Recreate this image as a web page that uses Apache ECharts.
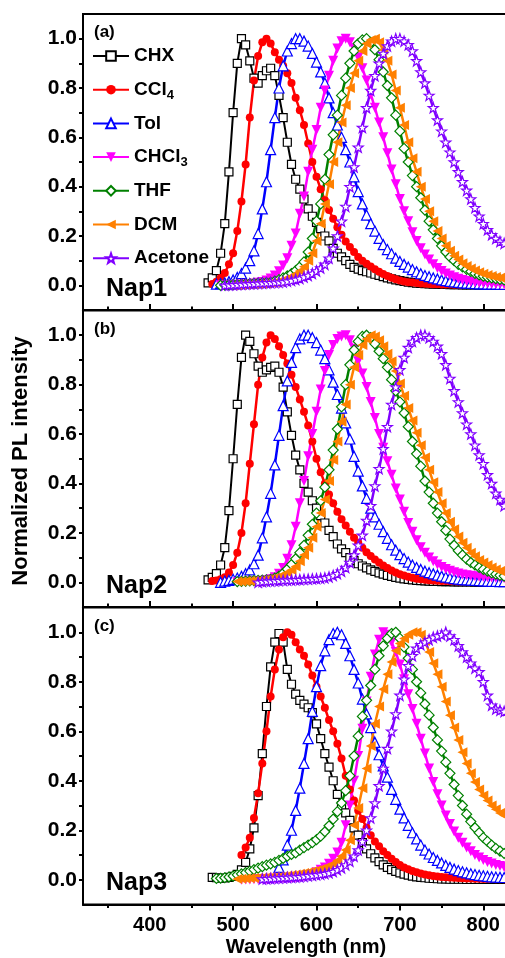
<!DOCTYPE html>
<html>
<head>
<meta charset="utf-8">
<script src="https://cdn.jsdelivr.net/npm/echarts@6/dist/echarts.min.js"></script>
<style>
  html, body { margin: 0; padding: 0; background: #ffffff; overflow: hidden; }
  #chart { width: 530px; height: 958px; }
</style>
</head>
<body>
<div id="chart"></div>
<script>
// Sampling grid shared by every spectrum (nm)
const WL = [470,475,480,485,490,495,500,505,510,515,
            520,525,530,535,540,545,550,555,560,565,
            570,575,580,585,590,595,600,605,610,615,
            620,625,630,635,640,645,650,655,660,665,
            670,675,680,685,690,695,700,705,710,715,
            720,725,730,735,740,745,750,755,760,765,
            770,775,780,785,790,795,800,805,810,815,
            820,825];

const SOLVENTS = ['CHX', 'CCl4', 'Tol', 'CHCl3', 'THF', 'DCM', 'Acetone'];
const PANEL_TAGS = ['(a)', '(b)', '(c)'];
const COMPOUNDS = ['Nap1', 'Nap2', 'Nap3'];
const X_MAJOR = [400, 500, 600, 700, 800];
const X_MINOR = [350, 450, 550, 650, 750, 850];
const Y_LABELS = [0, 0.2, 0.4, 0.6, 0.8, 1.0];
const Y_TICKS = [0, 0.1, 0.2, 0.3, 0.4, 0.5, 0.6, 0.7, 0.8, 0.9, 1.0];

// ---- Nap1 normalized PL ----
const nap1_CHX = [0.01,0.03,0.06,0.13,0.25,0.46,0.70,0.90,1.0,0.975,
  0.91,0.84,0.82,0.85,0.87,0.88,0.85,0.77,0.68,0.58,
  0.49,0.43,0.39,0.35,0.31,0.28,0.255,0.23,0.20,0.18,
  0.15,0.13,0.115,0.10,0.085,0.073,0.066,0.06,0.055,0.05,
  0.045,0.04,0.035,0.03,0.026,0.022,0.019,0.016,0.013,0.011,
  0.009,0.008,0.007,0.006,0.005,0.005,0.004,0.004,0.003,0.003,
  0.003,0.002,0.002,0.002,0.002,0.001,0.001,0.001,0.001,0.001,
  0.001,0.001];
const nap1_CCl4 = [null,0.005,0.015,0.03,0.05,0.085,0.13,0.22,0.34,0.49,
  0.68,0.83,0.93,0.985,1.0,0.98,0.945,0.915,0.89,0.86,
  0.82,0.76,0.71,0.65,0.575,0.50,0.44,0.39,0.345,0.305,
  0.27,0.235,0.205,0.178,0.155,0.135,0.115,0.10,0.088,0.076,
  0.065,0.055,0.046,0.038,0.031,0.025,0.02,0.016,0.013,0.011,
  0.009,0.007,0.006,0.005,0.004,0.004,0.003,0.003,0.003,0.002,
  0.002,0.002,0.002,0.002,0.001,0.001,0.001,0.001,0.001,0.001,
  0.001,0.001];
const nap1_Tol = [null,null,0.005,0.007,0.01,0.015,0.022,0.032,0.048,0.07,
  0.10,0.14,0.21,0.31,0.42,0.55,0.68,0.80,0.89,0.95,
  0.98,1.0,1.0,0.99,0.97,0.94,0.905,0.865,0.82,0.76,
  0.70,0.65,0.60,0.55,0.50,0.44,0.38,0.33,0.285,0.25,
  0.22,0.19,0.165,0.145,0.128,0.11,0.097,0.085,0.074,0.064,
  0.055,0.047,0.04,0.035,0.03,0.026,0.022,0.019,0.016,0.014,
  0.012,0.01,0.009,0.008,0.007,0.006,0.006,0.005,0.005,0.005,
  0.004,0.004];
const nap1_CHCl3 = [null,null,null,0.0,0.0,0.0,0.001,0.002,0.003,0.004,
  0.005,0.007,0.01,0.014,0.02,0.028,0.04,0.057,0.08,0.11,
  0.16,0.21,0.29,0.36,0.46,0.55,0.63,0.72,0.79,0.85,
  0.91,0.96,0.99,1.0,0.985,0.96,0.925,0.88,0.83,0.775,
  0.72,0.66,0.60,0.535,0.47,0.41,0.35,0.30,0.26,0.215,
  0.18,0.15,0.125,0.105,0.085,0.07,0.058,0.048,0.04,0.033,
  0.027,0.022,0.018,0.015,0.012,0.01,0.009,0.008,0.006,0.005,
  0.005,0.004];
const nap1_THF = [null,null,null,0.0,0.001,0.002,0.003,0.004,0.005,0.006,
  0.007,0.008,0.009,0.01,0.011,0.012,0.017,0.023,0.03,0.038,
  0.048,0.06,0.075,0.095,0.135,0.19,0.26,0.33,0.43,0.53,
  0.61,0.69,0.77,0.84,0.90,0.95,0.98,0.995,1.0,0.985,
  0.955,0.915,0.865,0.81,0.76,0.69,0.625,0.555,0.50,0.445,
  0.40,0.355,0.305,0.26,0.225,0.19,0.16,0.135,0.115,0.10,
  0.085,0.075,0.065,0.056,0.048,0.042,0.037,0.033,0.03,0.027,
  0.024,0.022];
const nap1_DCM = [null,null,null,null,null,null,0.0,0.001,0.002,0.003,
  0.004,0.005,0.006,0.007,0.008,0.01,0.013,0.017,0.022,0.028,
  0.036,0.046,0.058,0.075,0.10,0.13,0.18,0.25,0.33,0.41,
  0.50,0.58,0.66,0.73,0.80,0.86,0.91,0.95,0.98,0.995,
  1.0,0.985,0.955,0.91,0.855,0.79,0.72,0.65,0.58,0.515,
  0.46,0.40,0.35,0.30,0.26,0.22,0.19,0.16,0.14,0.12,
  0.105,0.09,0.078,0.068,0.06,0.053,0.047,0.042,0.038,0.034,
  0.031,0.028];
const nap1_Acetone = [null,null,null,null,0.0,0.001,0.002,0.003,0.004,0.005,
  0.006,0.007,0.008,0.009,0.01,0.011,0.012,0.013,0.014,0.017,
  0.02,0.024,0.028,0.034,0.04,0.048,0.058,0.07,0.085,0.11,
  0.15,0.20,0.26,0.32,0.40,0.48,0.56,0.64,0.72,0.79,
  0.85,0.90,0.94,0.97,0.99,1.0,1.0,0.99,0.975,0.95,
  0.91,0.865,0.82,0.77,0.72,0.67,0.625,0.58,0.54,0.50,
  0.46,0.42,0.385,0.35,0.315,0.28,0.25,0.225,0.205,0.19,
  0.178,0.17];

// ---- Nap2 normalized PL ----
const nap2_CHX = [0.01,0.02,0.035,0.07,0.14,0.29,0.50,0.72,0.91,1.0,
  0.975,0.925,0.875,0.85,0.86,0.87,0.875,0.85,0.79,0.69,
  0.595,0.515,0.455,0.40,0.365,0.33,0.30,0.27,0.24,0.21,
  0.185,0.155,0.135,0.12,0.10,0.088,0.075,0.066,0.058,0.05,
  0.044,0.038,0.033,0.028,0.024,0.02,0.017,0.014,0.012,0.01,
  0.008,0.007,0.006,0.005,0.004,0.004,0.003,0.003,0.003,0.002,
  0.002,0.002,0.002,0.002,0.001,0.001,0.001,0.001,0.001,0.001,
  0.001,0.001];
const nap2_CCl4 = [null,0.005,0.007,0.012,0.02,0.04,0.07,0.12,0.20,0.32,
  0.48,0.64,0.80,0.91,0.97,1.0,0.985,0.955,0.92,0.885,
  0.84,0.79,0.74,0.69,0.635,0.57,0.50,0.445,0.40,0.355,
  0.32,0.285,0.255,0.23,0.205,0.18,0.16,0.14,0.122,0.106,
  0.092,0.08,0.068,0.058,0.048,0.04,0.033,0.027,0.022,0.018,
  0.014,0.012,0.01,0.008,0.007,0.006,0.005,0.005,0.004,0.004,
  0.003,0.003,0.003,0.002,0.002,0.002,0.002,0.002,0.002,0.002,
  0.002,0.002];
const nap2_Tol = [null,null,null,0.0,0.005,0.008,0.012,0.017,0.024,0.035,
  0.05,0.075,0.11,0.18,0.265,0.36,0.475,0.595,0.715,0.815,
  0.89,0.95,0.985,1.0,1.0,0.99,0.97,0.94,0.905,0.86,
  0.81,0.76,0.705,0.645,0.58,0.51,0.45,0.39,0.34,0.30,
  0.265,0.235,0.205,0.178,0.152,0.13,0.112,0.096,0.082,0.07,
  0.06,0.052,0.045,0.039,0.034,0.029,0.025,0.021,0.018,0.015,
  0.013,0.011,0.01,0.009,0.008,0.007,0.006,0.005,0.004,0.004,
  0.003,0.003];
const nap2_CHCl3 = [null,null,null,null,null,null,null,0.0,0.001,0.002,
  0.003,0.004,0.005,0.006,0.008,0.012,0.02,0.035,0.058,0.095,
  0.15,0.225,0.32,0.41,0.51,0.60,0.69,0.78,0.855,0.92,
  0.96,0.985,0.995,1.0,0.98,0.945,0.895,0.845,0.79,0.73,
  0.665,0.60,0.545,0.49,0.435,0.38,0.335,0.285,0.24,0.205,
  0.17,0.142,0.12,0.10,0.085,0.072,0.062,0.054,0.047,0.041,
  0.036,0.032,0.029,0.026,0.024,0.022,0.021,0.02,0.019,0.018,
  0.017,0.016];
const nap2_THF = [null,null,null,null,null,null,null,0.003,0.004,0.005,
  0.006,0.007,0.008,0.009,0.01,0.012,0.017,0.025,0.037,0.053,
  0.072,0.095,0.12,0.15,0.19,0.235,0.28,0.33,0.385,0.455,
  0.535,0.62,0.71,0.80,0.88,0.94,0.975,0.995,1.0,0.99,
  0.965,0.935,0.905,0.87,0.82,0.775,0.73,0.685,0.63,0.57,
  0.52,0.47,0.41,0.365,0.32,0.28,0.245,0.21,0.175,0.15,
  0.128,0.11,0.094,0.08,0.07,0.06,0.052,0.045,0.038,0.033,
  0.028,0.025];
const nap2_DCM = [null,null,null,null,null,null,null,0.003,0.003,0.004,
  0.005,0.006,0.007,0.009,0.011,0.014,0.018,0.023,0.03,0.04,
  0.05,0.064,0.085,0.11,0.14,0.18,0.225,0.28,0.335,0.41,
  0.495,0.57,0.65,0.72,0.80,0.87,0.92,0.96,0.985,1.0,
  0.995,0.98,0.955,0.925,0.895,0.855,0.805,0.755,0.705,0.655,
  0.605,0.555,0.505,0.455,0.405,0.365,0.32,0.28,0.245,0.215,
  0.185,0.16,0.14,0.12,0.105,0.09,0.08,0.07,0.06,0.052,
  0.046,0.04];
const nap2_Acetone = [null,null,null,null,null,null,null,null,null,null,
  null,null,0.0,0.003,0.004,0.005,0.006,0.007,0.008,0.009,
  0.009,0.01,0.011,0.012,0.013,0.014,0.015,0.016,0.018,0.022,
  0.028,0.035,0.045,0.06,0.08,0.11,0.15,0.19,0.25,0.31,
  0.39,0.46,0.54,0.63,0.72,0.79,0.86,0.91,0.95,0.975,
  0.99,1.0,1.0,0.99,0.975,0.955,0.925,0.88,0.825,0.775,
  0.73,0.685,0.64,0.60,0.555,0.515,0.48,0.435,0.40,0.36,
  0.335,0.31];

// ---- Nap3 normalized PL ----
const nap3_CHX = [null,0.01,0.008,0.006,0.007,0.01,0.014,0.022,0.04,0.07,
  0.125,0.21,0.34,0.51,0.70,0.86,0.96,0.995,0.96,0.85,
  0.79,0.75,0.725,0.71,0.695,0.675,0.63,0.57,0.51,0.455,
  0.40,0.345,0.30,0.27,0.24,0.21,0.18,0.15,0.125,0.105,
  0.088,0.073,0.06,0.05,0.041,0.034,0.028,0.023,0.019,0.015,
  0.012,0.01,0.008,0.006,0.005,0.004,0.003,0.003,0.002,0.002,
  0.002,0.002,0.001,0.001,0.001,0.001,0.001,0.001,0.001,0.001,
  0.001,0.001];
const nap3_CCl4 = [null,null,null,null,null,null,null,null,0.10,0.13,
  0.17,0.25,0.35,0.47,0.60,0.74,0.85,0.93,0.98,1.0,
  0.99,0.96,0.93,0.905,0.87,0.825,0.78,0.74,0.695,0.645,
  0.60,0.55,0.49,0.42,0.365,0.32,0.28,0.245,0.21,0.18,
  0.155,0.135,0.115,0.10,0.085,0.072,0.06,0.05,0.042,0.035,
  0.03,0.025,0.021,0.018,0.015,0.013,0.011,0.01,0.009,0.008,
  0.007,0.006,0.005,0.005,0.004,0.004,0.003,0.003,0.003,0.002,
  0.002,0.002];
const nap3_Tol = [null,null,null,null,null,null,null,null,null,null,
  null,null,null,null,null,null,null,0.05,0.08,0.14,
  0.20,0.28,0.37,0.47,0.57,0.68,0.78,0.865,0.925,0.97,
  0.995,1.0,0.99,0.955,0.905,0.85,0.795,0.73,0.67,0.615,
  0.555,0.505,0.46,0.415,0.365,0.325,0.285,0.25,0.22,0.19,
  0.165,0.14,0.12,0.104,0.09,0.078,0.068,0.058,0.05,0.043,
  0.037,0.032,0.028,0.024,0.021,0.018,0.016,0.014,0.012,0.011,
  0.01,0.009];
const nap3_CHCl3 = [null,null,null,null,null,null,null,null,0.0,0.001,
  0.001,0.002,0.002,0.003,0.003,0.004,0.004,0.005,0.006,0.007,
  0.008,0.009,0.01,0.012,0.017,0.022,0.03,0.04,0.05,0.065,
  0.085,0.11,0.15,0.22,0.30,0.40,0.50,0.61,0.72,0.82,
  0.91,0.97,1.0,0.99,0.96,0.92,0.87,0.81,0.75,0.69,
  0.63,0.57,0.51,0.45,0.395,0.345,0.30,0.26,0.225,0.195,
  0.17,0.15,0.13,0.115,0.10,0.09,0.08,0.072,0.066,0.06,
  0.056,0.052];
const nap3_THF = [null,null,0.005,0.006,0.008,0.011,0.015,0.02,0.024,0.029,
  0.035,0.041,0.047,0.053,0.059,0.064,0.07,0.078,0.086,0.095,
  0.102,0.108,0.12,0.13,0.14,0.15,0.162,0.176,0.194,0.218,
  0.245,0.275,0.31,0.36,0.42,0.50,0.58,0.66,0.725,0.785,
  0.85,0.905,0.945,0.975,0.995,1.0,0.975,0.94,0.895,0.85,
  0.80,0.755,0.71,0.665,0.615,0.565,0.52,0.475,0.43,0.385,
  0.34,0.30,0.265,0.235,0.21,0.19,0.17,0.155,0.14,0.127,
  0.116,0.106];
const nap3_DCM = [null,null,null,null,null,null,null,0.003,0.004,0.005,
  0.006,0.007,0.008,0.009,0.01,0.011,0.012,0.013,0.015,0.017,
  0.019,0.021,0.024,0.027,0.03,0.034,0.038,0.043,0.049,0.056,
  0.065,0.078,0.095,0.12,0.16,0.22,0.29,0.37,0.45,0.54,
  0.63,0.70,0.77,0.83,0.88,0.925,0.955,0.975,0.99,1.0,
  1.0,0.99,0.965,0.92,0.875,0.83,0.78,0.72,0.665,0.615,
  0.565,0.515,0.47,0.43,0.395,0.365,0.34,0.32,0.30,0.285,
  0.27,0.26];
const nap3_Acetone = [null,null,null,null,null,null,null,null,null,null,
  null,null,null,0.003,0.004,0.005,0.006,0.007,0.008,0.009,
  0.01,0.011,0.012,0.014,0.016,0.018,0.02,0.022,0.025,0.028,
  0.033,0.04,0.048,0.06,0.075,0.095,0.12,0.155,0.20,0.25,
  0.31,0.38,0.45,0.53,0.60,0.67,0.745,0.81,0.865,0.905,
  0.935,0.95,0.96,0.97,0.98,0.985,0.99,1.0,0.985,0.97,
  0.945,0.92,0.90,0.875,0.855,0.84,0.80,0.745,0.705,0.69,
  0.685,0.68];

const PANEL_DATA = [
  { CHX: nap1_CHX, CCl4: nap1_CCl4, Tol: nap1_Tol, CHCl3: nap1_CHCl3, THF: nap1_THF, DCM: nap1_DCM, Acetone: nap1_Acetone },
  { CHX: nap2_CHX, CCl4: nap2_CCl4, Tol: nap2_Tol, CHCl3: nap2_CHCl3, THF: nap2_THF, DCM: nap2_DCM, Acetone: nap2_Acetone },
  { CHX: nap3_CHX, CCl4: nap3_CCl4, Tol: nap3_Tol, CHCl3: nap3_CHCl3, THF: nap3_THF, DCM: nap3_DCM, Acetone: nap3_Acetone }
];

// five-point star, used as an open marker
const STAR = 'path://M10,0 L12.35,6.76 L19.51,6.91 L13.8,11.24 L15.88,18.09 L10,14 L4.12,18.09 L6.2,11.24 L0.49,6.91 L7.65,6.76 Z';

const LOOK = {
  CHX:     { color: '#000000', symbol: 'rect',     size: 8,  rotate: 0,   open: true,  width: 2 },
  CCl4:    { color: '#ff0000', symbol: 'circle',   size: 8,  rotate: 0,   open: false, width: 2.5 },
  Tol:     { color: '#0000ff', symbol: 'triangle', size: 10, rotate: 0,   open: true,  width: 2.5 },
  CHCl3:   { color: '#ff00ff', symbol: 'triangle', size: 10, rotate: 180, open: false, width: 2.5 },
  THF:     { color: '#008000', symbol: 'diamond',  size: 10, rotate: 0,   open: true,  width: 2.5 },
  DCM:     { color: '#ff8000', symbol: 'triangle', size: 10, rotate: 90,  open: false, width: 2.5 },
  Acetone: { color: '#8000ff', symbol: STAR,       size: 10, rotate: 0,   open: true,  width: 2.5 }
};

const FONT = "'Liberation Sans', Arial, Helvetica, sans-serif";
// the frame continues to 850 nm, a little past the visible right edge
const GRIDS = [
  { left: 83, top: 14,    width: 442, height: 296 },
  { left: 83, top: 310.5, width: 442, height: 296.5 },
  { left: 83, top: 607.5, width: 442, height: 297 }
];

const grid = GRIDS.map(g => Object.assign({
  show: true, borderColor: '#000', borderWidth: 2, backgroundColor: 'transparent'
}, g));

const xAxis = [];
const yAxis = [];
GRIDS.forEach((g, p) => {
  const last = p === GRIDS.length - 1;
  xAxis.push({
    gridIndex: p, type: 'value', min: 320, max: 850, position: 'bottom',
    axisLine: { show: true, onZero: false, lineStyle: { color: '#000', width: 2 } },
    axisTick: { show: true, inside: !last, length: 6, customValues: X_MAJOR, lineStyle: { color: '#000', width: 2 } },
    axisLabel: { show: last, customValues: X_MAJOR, margin: 11, color: '#000', fontSize: 20, fontWeight: 'bold', fontFamily: FONT },
    splitLine: { show: false }
  });
  xAxis.push({
    gridIndex: p, type: 'value', min: 320, max: 850, position: 'bottom',
    axisLine: { show: false, onZero: false },
    axisTick: { show: true, inside: !last, length: 3.5, customValues: X_MINOR, lineStyle: { color: '#000', width: 2 } },
    axisLabel: { show: false },
    splitLine: { show: false }
  });
  yAxis.push({
    gridIndex: p, type: 'value', min: -0.1, max: 1.1,
    axisLine: { show: true, onZero: false, lineStyle: { color: '#000', width: 2 } },
    axisTick: { show: true, inside: false, length: 4, customValues: Y_TICKS, lineStyle: { color: '#000', width: 2 } },
    axisLabel: { customValues: Y_LABELS, formatter: v => v.toFixed(1), margin: 6, color: '#000', fontSize: 21, fontWeight: 'bold', fontFamily: FONT },
    splitLine: { show: false }
  });
});

const series = [];
PANEL_DATA.forEach((panel, p) => {
  SOLVENTS.forEach(name => {
    const look = LOOK[name];
    const values = panel[name];
    const pts = [];
    WL.forEach((w, i) => { if (values[i] !== null) pts.push([w, values[i]]); });
    series.push({
      name: name, type: 'line',
      xAxisIndex: 2 * p, yAxisIndex: p,
      data: pts,
      symbol: look.symbol, symbolSize: look.size, symbolRotate: look.rotate,
      showSymbol: true,
      lineStyle: { color: look.color, width: look.width },
      itemStyle: look.open
        ? { color: '#ffffff', borderColor: look.color, borderWidth: 1.2 }
        : { color: look.color, borderColor: look.color, borderWidth: 0 },
      emphasis: { disabled: true },
      animation: false
    });
  });
});

const texts = [];
PANEL_TAGS.forEach((t, p) => {
  texts.push({ type: 'text', left: 94, top: GRIDS[p].top + 10,
    style: { text: t, font: 'bold 17px ' + FONT, fill: '#000' } });
  texts.push({ type: 'text', left: 106, top: GRIDS[p].top + 263,
    style: { text: COMPOUNDS[p], font: 'bold 25px ' + FONT, fill: '#000' } });
});
texts.push({ type: 'text', x: 21, y: 461, rotation: Math.PI / 2,
  style: { text: 'Normalized PL intensity', font: 'bold 22px ' + FONT, fill: '#000', textAlign: 'center', textVerticalAlign: 'middle' } });
texts.push({ type: 'text', x: 306, y: 947,
  style: { text: 'Wavelength (nm)', font: 'bold 20px ' + FONT, fill: '#000', textAlign: 'center', textVerticalAlign: 'middle' } });

const chart = echarts.init(document.getElementById('chart'), null, { renderer: 'canvas' });
chart.setOption({
  backgroundColor: '#ffffff',
  animation: false,
  grid: grid,
  xAxis: xAxis,
  yAxis: yAxis,
  legend: {
    data: SOLVENTS,
    orient: 'vertical', left: 92, top: 44, padding: 0,
    itemWidth: 36, itemHeight: 12, itemGap: 9.7,
    selectedMode: false,
    formatter: n => n.replace(/(\d)$/, '{sub|$1}'),
    textStyle: {
      color: '#000', fontSize: 19, fontWeight: 'bold', fontFamily: FONT, lineHeight: 24,
      rich: { sub: { fontSize: 13, fontWeight: 'bold', fontFamily: FONT, lineHeight: 10, verticalAlign: 'bottom', color: '#000' } }
    }
  },
  graphic: texts,
  series: series
});
</script>
</body>
</html>
